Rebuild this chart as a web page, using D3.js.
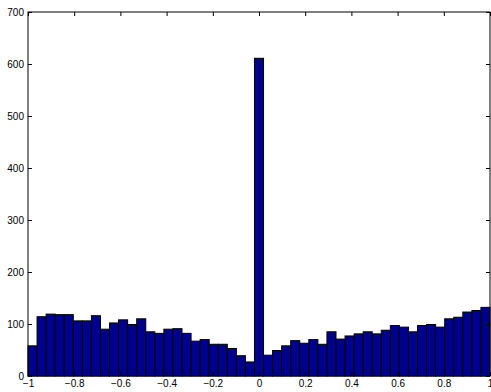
<!DOCTYPE html>
<html>
<head>
<meta charset="utf-8">
<script src="https://cdn.jsdelivr.net/npm/d3@7"></script>
<style>
  html, body { margin: 0; padding: 0; background: #fff; }
  svg { display: block; }
  .tick text { font-family: "Liberation Sans", Arial, Helvetica, sans-serif; font-size: 10px; fill: #000; }
</style>
</head>
<body>
<svg id="chart"></svg>
<script>
// histogram counts, 51 equal bins spanning -1 .. 1
var counts = [58, 114, 119, 118, 118, 106, 106, 116, 90, 102,
              108, 99, 110, 85, 82, 90, 91, 82, 67, 70,
              61, 61, 53, 39, 27, 611, 40, 49, 58, 68,
              63, 70, 61, 85, 71, 77, 81, 85, 81, 88,
              97, 94, 85, 97, 99, 94, 110, 113, 123, 126, 132]
var xExtent = [-1, 1]
var yExtent = [0, 700]
var xTicks = [-1, -0.8, -0.6, -0.4, -0.2, 0, 0.2, 0.4, 0.6, 0.8, 1]
var xTickLabels = ["\u22121", "\u22120.8", "\u22120.6", "\u22120.4", "\u22120.2", "0", "0.2", "0.4", "0.6", "0.8", "1"]
var yTicks = [0, 100, 200, 300, 400, 500, 600, 700]
var yTickLabels = ["0", "100", "200", "300", "400", "500", "600", "700"]

var width = 491, height = 392
var margin = {left: 28, right: 1, top: 12, bottom: 16}

var svg = d3.select("#chart")
    .attr("width", width)
    .attr("height", height)

var x = d3.scaleLinear()
    .domain(xExtent)
    .range([margin.left, width - margin.right])

var y = d3.scaleLinear()
    .domain(yExtent)
    .range([height - margin.bottom, margin.top])

var binWidth = (xExtent[1] - xExtent[0]) / counts.length
var bins = counts.map(function(c, i) {
    return {x0: xExtent[0] + i * binWidth, x1: xExtent[0] + (i + 1) * binWidth, count: c}
})

svg.append("g")
    .selectAll("rect")
    .data(bins)
    .enter()
    .append("rect")
    .attr("x", d => x(d.x0))
    .attr("y", d => y(d.count))
    .attr("width", d => x(d.x1) - x(d.x0))
    .attr("height", d => y(0) - y(d.count))
    .attr("fill", "#00008f")
    .attr("stroke", "#000")
    .attr("stroke-width", 1)

// axes, ticks pointing inward like matlab
var tick = 4

svg.append("g")
    .attr("transform", "translate(0," + y(0) + ")")
    .call(d3.axisBottom(x).tickValues(xTicks).tickFormat((d, i) => xTickLabels[i])
        .tickSizeInner(-tick).tickSizeOuter(0).tickPadding(4))

svg.append("g")
    .attr("transform", "translate(" + x(xExtent[0]) + ",0)")
    .call(d3.axisLeft(y).tickValues(yTicks).tickFormat((d, i) => yTickLabels[i])
        .tickSizeInner(-tick).tickSizeOuter(0).tickPadding(4))

svg.append("g")
    .attr("transform", "translate(0," + y(yExtent[1]) + ")")
    .call(d3.axisTop(x).tickValues(xTicks).tickFormat("")
        .tickSizeInner(-tick).tickSizeOuter(0))

svg.append("g")
    .attr("transform", "translate(" + x(xExtent[1]) + ",0)")
    .call(d3.axisRight(y).tickValues(yTicks).tickFormat("")
        .tickSizeInner(-tick).tickSizeOuter(0))

svg.selectAll(".domain").remove()
svg.selectAll(".tick line").attr("stroke", "#000")

svg.append("rect")
    .attr("x", x(xExtent[0]))
    .attr("y", y(yExtent[1]))
    .attr("width", x(xExtent[1]) - x(xExtent[0]))
    .attr("height", y(yExtent[0]) - y(yExtent[1]))
    .attr("fill", "none")
    .attr("stroke", "#000")
    .attr("stroke-width", 1)
</script>
</body>
</html>
